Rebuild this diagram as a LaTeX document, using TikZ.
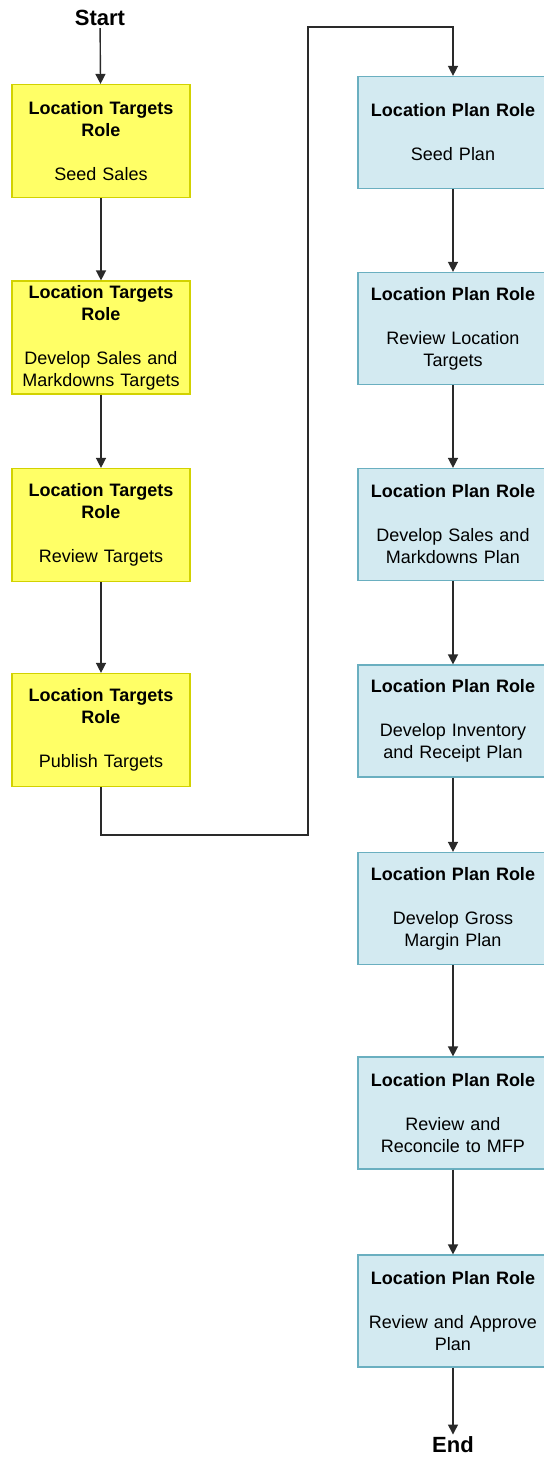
\documentclass[tikz,border=0pt]{standalone}
\usepackage{fontspec}
\setmainfont{Liberation Sans}
\usetikzlibrary{arrows.meta}
\definecolor{targetfill}{HTML}{FFFF66}
\definecolor{targetline}{HTML}{D2D200}
\definecolor{planfill}{HTML}{D3EAF1}
\definecolor{planline}{HTML}{6AAFC0}
\definecolor{flowline}{HTML}{2A2A2A}
\tikzset{
  role/.style={draw, line width=0.6pt, align=center, inner sep=1pt, font=\fontsize{9}{11}\selectfont},
  targetrole/.style={role, fill=targetfill, draw=targetline, text width=86pt, minimum width=89pt, minimum height=56.5pt},
  planrole/.style={role, fill=planfill, draw=planline, text width=92pt, minimum width=95pt, minimum height=56pt},
  term/.style={font=\fontsize{11}{13}\selectfont\bfseries, inner sep=1pt},
  flow/.style={-{Triangle[length=5pt,width=5pt]}, line width=0.7pt, draw=flowline},
}

\begin{document}
\begin{tikzpicture}[x=0.5pt,y=-0.5pt]
\useasboundingbox (0,0) rectangle (544,1458);
% targets column
\node[term] (start) at (100,18) {Start};
\node[targetrole] (seedsales) at (101,141) {\textbf{Location Targets}\\\textbf{Role}\\[11pt]Seed Sales};
\node[targetrole] (devtargets) at (101,337.5) {\textbf{Location Targets}\\\textbf{Role}\\[11pt]Develop Sales and Markdowns Targets};
\node[targetrole] (revtargets) at (101,525) {\textbf{Location Targets}\\\textbf{Role}\\[11pt]Review Targets};
\node[targetrole] (pubtargets) at (101,730) {\textbf{Location Targets}\\\textbf{Role}\\[11pt]Publish Targets};
% plan column
\node[planrole] (seedplan) at (453,132.5) {\textbf{Location Plan Role}\\[11pt]Seed Plan};
\node[planrole] (revloc) at (453,328.5) {\textbf{Location Plan Role}\\[11pt]Review Location\\Targets};
\node[planrole] (devsales) at (453,524.5) {\textbf{Location Plan Role}\\[11pt]Develop Sales and\\Markdowns Plan};
\node[planrole] (devinv) at (453,721) {\textbf{Location Plan Role}\\[11pt]Develop Inventory\\and Receipt Plan};
\node[planrole] (devgm) at (453,908.5) {\textbf{Location Plan Role}\\[11pt]Develop Gross\\Margin Plan};
\node[planrole] (reconcile) at (453,1113) {\textbf{Location Plan Role}\\[11pt]Review and\\Reconcile to MFP};
\node[planrole] (approve) at (453,1311) {\textbf{Location Plan Role}\\[11pt]Review and Approve\\Plan};
\node[term] (finish) at (453,1445) {End};
% connectors
\draw[flow] (start) -- (seedsales);
\draw[flow] (seedsales) -- (devtargets);
\draw[flow] (devtargets) -- (revtargets);
\draw[flow] (revtargets) -- (pubtargets);
\coordinate (turnlow) at (308,835);
\coordinate (turnhigh) at (308,27);
\draw[flow] (pubtargets.south) |- (turnlow) -- (turnhigh) -| (seedplan.north);
\draw[flow] (seedplan) -- (revloc);
\draw[flow] (revloc) -- (devsales);
\draw[flow] (devsales) -- (devinv);
\draw[flow] (devinv) -- (devgm);
\draw[flow] (devgm) -- (reconcile);
\draw[flow] (reconcile) -- (approve);
\draw[flow] (approve) -- (finish);
\end{tikzpicture}
\end{document}
